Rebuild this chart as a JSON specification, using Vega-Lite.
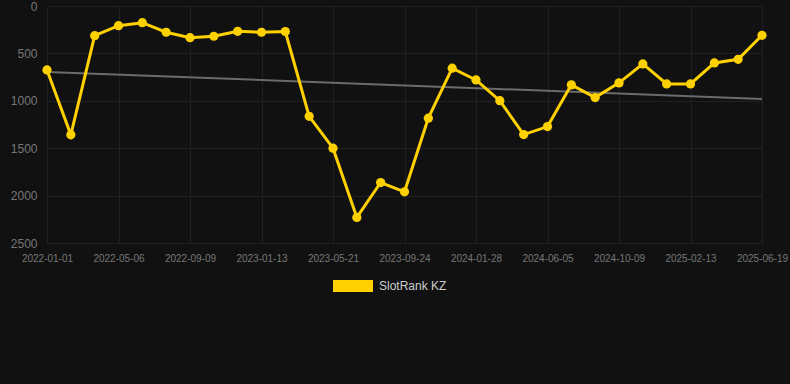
{
  "$schema": "https://vega.github.io/schema/vega-lite/v6.json",
  "width": 715,
  "height": 237,
  "autosize": {"type": "none"},
  "padding": {"left": 47, "top": 6, "right": 28, "bottom": 141},
  "background": "#111111",
  "config": {
    "view": {"stroke": null},
    "font": "Liberation Sans",
    "axis": {
      "domain": false,
      "ticks": false,
      "grid": true,
      "gridColor": "#202020",
      "gridWidth": 1,
      "labelColor": "#777777",
      "title": null
    },
    "legend": {
      "padding": 0,
      "labelColor": "#cccccc",
      "labelFontSize": 12,
      "labelFont": "Liberation Sans"
    }
  },
  "datasets": {
    "rank": [
      {"date": "2022-01-01", "rank": 674, "series": "SlotRank KZ"},
      {"date": "2022-02-12", "rank": 1359, "series": "SlotRank KZ"},
      {"date": "2022-03-26", "rank": 313, "series": "SlotRank KZ"},
      {"date": "2022-05-06", "rank": 208, "series": "SlotRank KZ"},
      {"date": "2022-06-17", "rank": 176, "series": "SlotRank KZ"},
      {"date": "2022-07-29", "rank": 277, "series": "SlotRank KZ"},
      {"date": "2022-09-09", "rank": 334, "series": "SlotRank KZ"},
      {"date": "2022-10-21", "rank": 319, "series": "SlotRank KZ"},
      {"date": "2022-12-02", "rank": 267, "series": "SlotRank KZ"},
      {"date": "2023-01-13", "rank": 277, "series": "SlotRank KZ"},
      {"date": "2023-02-24", "rank": 269, "series": "SlotRank KZ"},
      {"date": "2023-04-07", "rank": 1164, "series": "SlotRank KZ"},
      {"date": "2023-05-21", "rank": 1500, "series": "SlotRank KZ"},
      {"date": "2023-07-02", "rank": 2230, "series": "SlotRank KZ"},
      {"date": "2023-08-13", "rank": 1862, "series": "SlotRank KZ"},
      {"date": "2023-09-24", "rank": 1960, "series": "SlotRank KZ"},
      {"date": "2023-11-05", "rank": 1183, "series": "SlotRank KZ"},
      {"date": "2023-12-17", "rank": 656, "series": "SlotRank KZ"},
      {"date": "2024-01-28", "rank": 780, "series": "SlotRank KZ"},
      {"date": "2024-03-11", "rank": 999, "series": "SlotRank KZ"},
      {"date": "2024-04-23", "rank": 1356, "series": "SlotRank KZ"},
      {"date": "2024-06-05", "rank": 1272, "series": "SlotRank KZ"},
      {"date": "2024-07-17", "rank": 832, "series": "SlotRank KZ"},
      {"date": "2024-08-28", "rank": 966, "series": "SlotRank KZ"},
      {"date": "2024-10-09", "rank": 811, "series": "SlotRank KZ"},
      {"date": "2024-11-20", "rank": 611, "series": "SlotRank KZ"},
      {"date": "2025-01-01", "rank": 822, "series": "SlotRank KZ"},
      {"date": "2025-02-13", "rank": 822, "series": "SlotRank KZ"},
      {"date": "2025-03-27", "rank": 601, "series": "SlotRank KZ"},
      {"date": "2025-05-08", "rank": 562, "series": "SlotRank KZ"},
      {"date": "2025-06-19", "rank": 309, "series": "SlotRank KZ"}
    ],
    "trend": [
      {"date": "2022-01-01", "rank": 695},
      {"date": "2025-06-19", "rank": 980}
    ]
  },
  "encoding": {
    "x": {
      "field": "date",
      "type": "ordinal",
      "sort": "ascending",
      "scale": {"type": "point", "padding": 0},
      "axis": {
        "values": ["2022-01-01", "2022-05-06", "2022-09-09", "2023-01-13", "2023-05-21", "2023-09-24", "2024-01-28", "2024-06-05", "2024-10-09", "2025-02-13", "2025-06-19"],
        "labelAngle": 0,
        "labelFontSize": 10,
        "labelPadding": 10
      }
    },
    "y": {
      "field": "rank",
      "type": "quantitative",
      "scale": {"domain": [0, 2500], "reverse": true, "nice": false},
      "axis": {
        "values": [0, 500, 1000, 1500, 2000, 2500],
        "format": "d",
        "labelFontSize": 12,
        "labelPadding": 10
      }
    }
  },
  "layer": [
    {
      "data": {"name": "trend"},
      "mark": {"type": "line", "color": "#6b6b6b", "strokeWidth": 2}
    },
    {
      "data": {"name": "rank"},
      "mark": {
        "type": "line",
        "strokeWidth": 3,
        "point": {"filled": true, "size": 85}
      },
      "encoding": {
        "color": {
          "field": "series",
          "type": "nominal",
          "scale": {"range": ["#FFD100"]},
          "legend": {
            "title": null,
            "orient": "none",
            "legendX": 286,
            "legendY": 260,
            "symbolType": "M-1,-0.3L1,-0.3L1,0.3L-1,0.3Z",
            "symbolSize": 1600,
            "symbolStrokeWidth": 0,
            "labelOffset": 6,
            "encode": {
              "symbols": {
                "update": {
                  "fill": {"value": "#FFD100"},
                  "stroke": {"value": "#FFD100"},
                  "strokeWidth": {"value": 0},
                  "opacity": {"value": 1}
                }
              }
            }
          }
        }
      }
    }
  ]
}
